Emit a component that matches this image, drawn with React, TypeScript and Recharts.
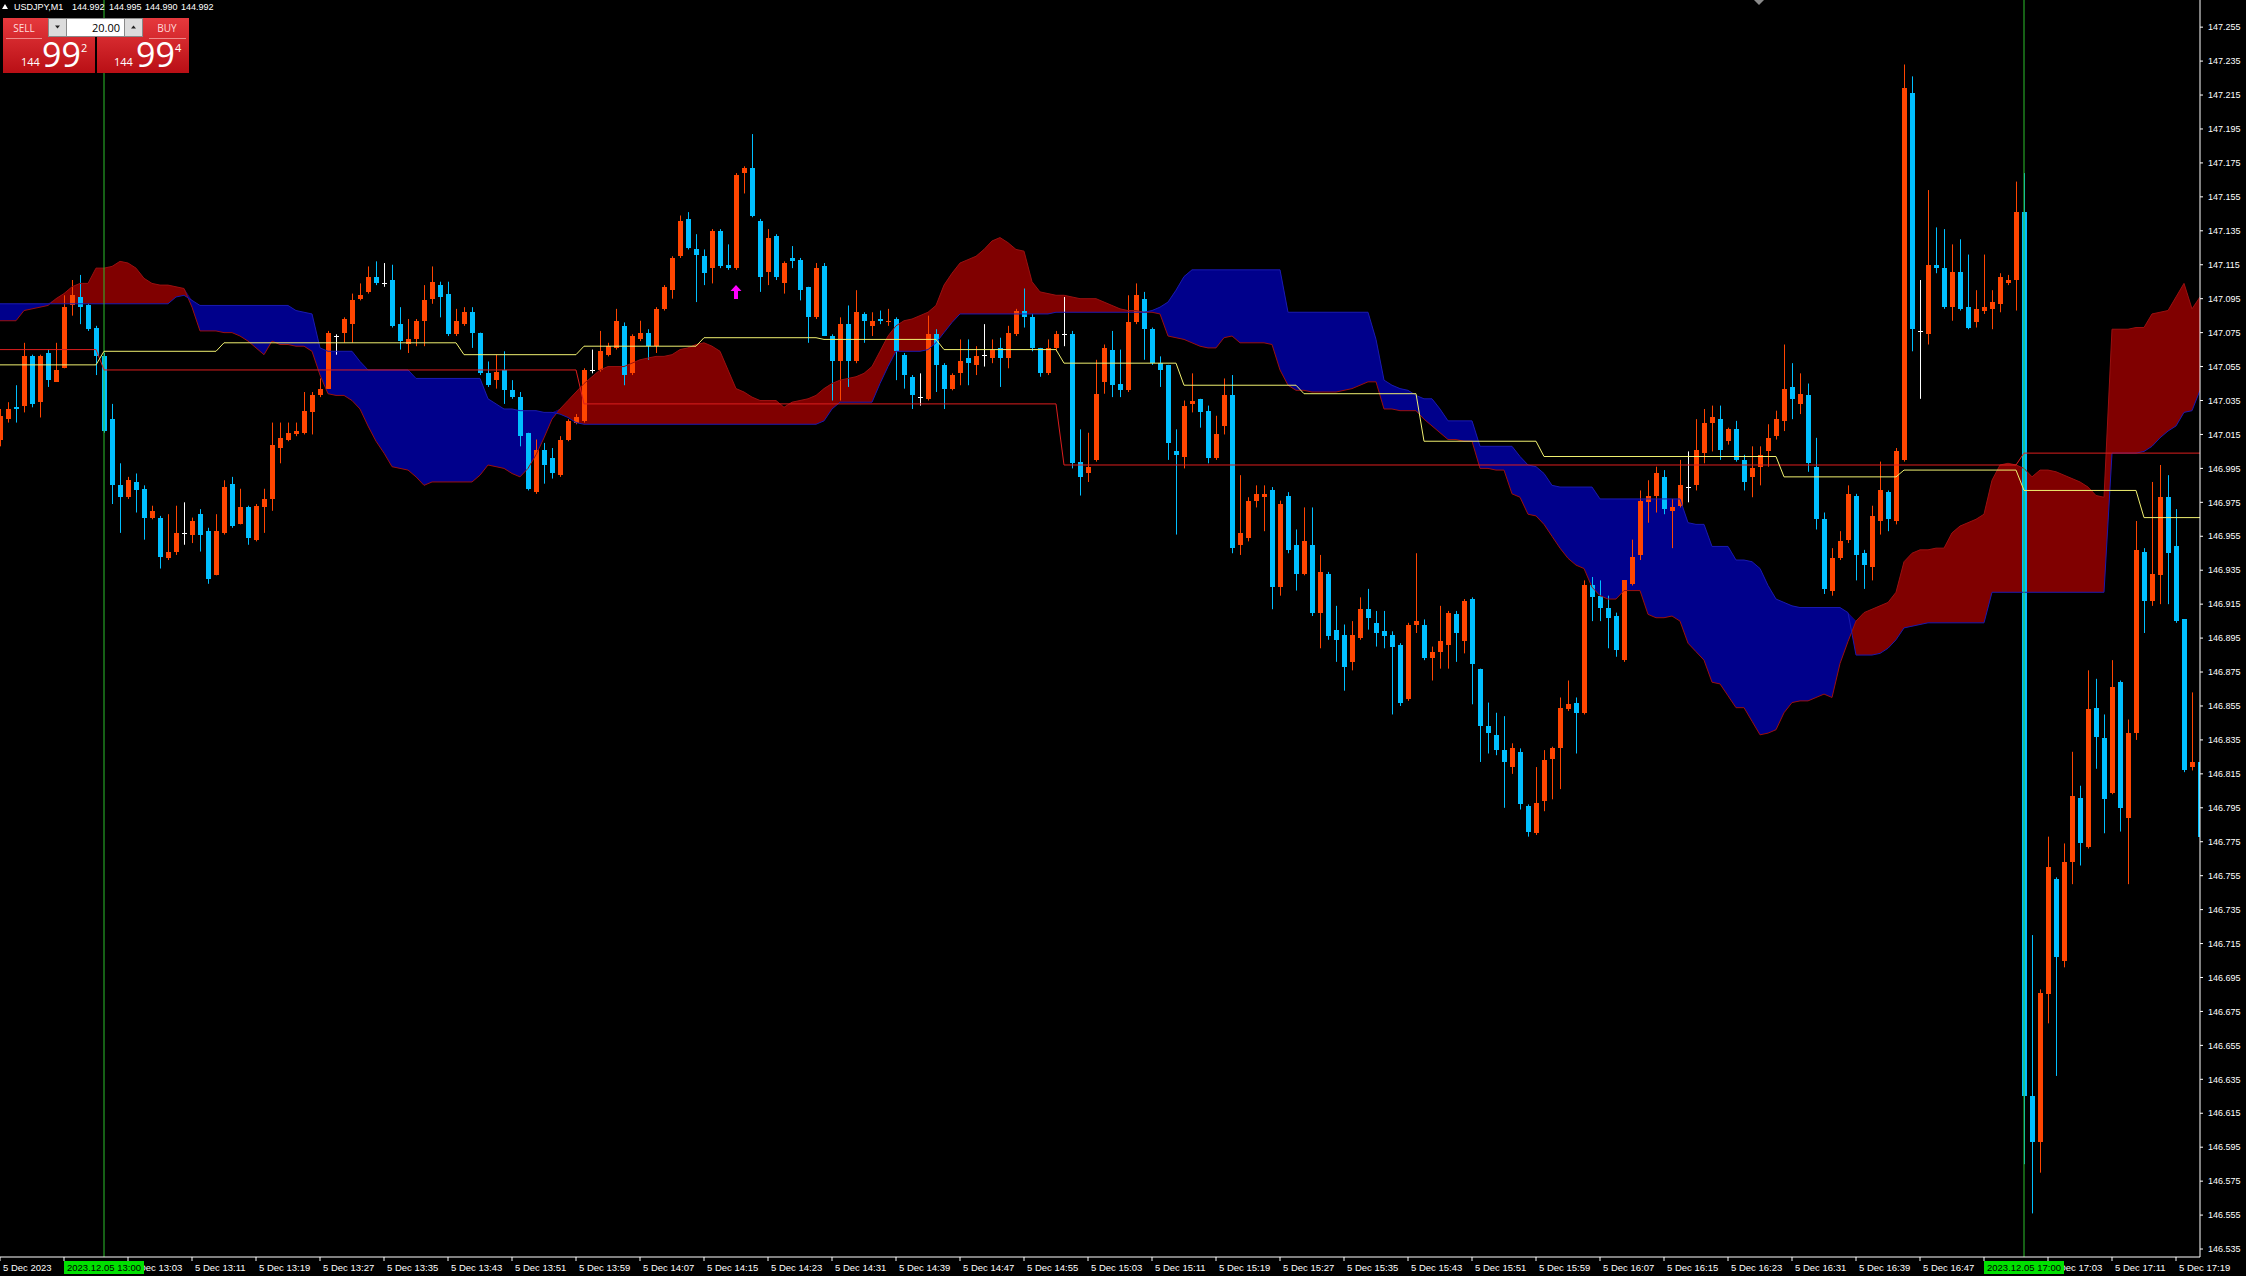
import React from "react";
import { ComposedChart, Bar, Line, Area, Scatter, XAxis, YAxis, ReferenceLine } from "recharts";

const FONT = "'Liberation Sans', Arial, sans-serif";
const UP = "#ff4500";
const DOWN = "#00bfff";
const DOJI = "#ffffff";
const KUMO_UP = "#800000";
const KUMO_DOWN = "#00008b";

// USDJPY M1, 5 Dec 2023, bar 0 = 12:47
const opens = [
  147.012, 147.024, 147.031, 147.032, 147.061, 147.034, 147.063, 147.046, 147.054, 147.091,
  147.096, 147.091, 147.078, 147.061, 147.024, 146.985, 146.978, 146.987, 146.983, 146.966,
  146.966, 146.942, 146.946, 146.957, 146.956, 146.968, 146.958, 146.932, 146.957, 146.986,
  146.962, 146.972, 146.953, 146.972, 146.977, 147.007, 147.012, 147.015, 147.016, 147.028,
  147.038, 147.042, 147.073, 147.075, 147.080, 147.095, 147.099, 147.108, 147.104, 147.106,
  147.080, 147.068, 147.071, 147.082, 147.095, 147.103, 147.098, 147.074, 147.080, 147.087,
  147.075, 147.051, 147.047, 147.053, 147.041, 147.037, 147.016, 146.981, 147.006, 147.001,
  146.991, 147.012, 147.022, 147.023, 147.053, 147.053, 147.062, 147.066, 147.079, 147.051,
  147.071, 147.075, 147.067, 147.089, 147.100, 147.120, 147.142, 147.124, 147.120, 147.113,
  147.135, 147.115, 147.113, 147.169, 147.172, 147.141, 147.111, 147.132, 147.104, 147.119,
  147.118, 147.102, 147.084, 147.114, 147.073, 147.058, 147.080, 147.058, 147.086, 147.079,
  147.083, 147.081, 147.083, 147.062, 147.049, 147.037, 147.036, 147.074, 147.056, 147.042,
  147.051, 147.060, 147.056, 147.062, 147.060, 147.066, 147.060, 147.074, 147.088, 147.084,
  147.066, 147.051, 147.066, 147.074, 147.074, 146.999, 146.992, 147.000, 147.046, 147.065,
  147.045, 147.041, 147.081, 147.095, 147.077, 147.057, 147.056, 147.005, 147.002, 147.033,
  147.036, 147.029, 147.001, 147.020, 147.038, 146.950, 146.954, 146.976, 146.978, 146.982,
  146.925, 146.979, 146.950, 146.933, 146.950, 146.910, 146.933, 146.900, 146.897, 146.881,
  146.895, 146.912, 146.904, 146.899, 146.897, 146.891, 146.859, 146.903, 146.903, 146.883,
  146.887, 146.891, 146.909, 146.893, 146.918, 146.877, 146.843, 146.838, 146.829, 146.819,
  146.828, 146.796, 146.780, 146.799, 146.824, 146.830, 146.853, 146.857, 146.851, 146.926,
  146.920, 146.913, 146.908, 146.882, 146.927, 146.944, 146.975, 146.979, 146.990, 146.970,
  146.973, 146.984, 146.985, 147.004, 147.022, 147.024, 147.011, 147.018, 147.000, 146.990,
  146.996, 147.005, 147.014, 147.023, 147.043, 147.033, 147.038, 146.996, 146.965, 146.923,
  146.942, 146.953, 146.979, 146.945, 146.937, 146.964, 146.981, 146.964, 147.000, 147.216,
  147.076, 147.074, 147.115, 147.113, 147.090, 147.111, 147.090, 147.081, 147.088, 147.089,
  147.092, 147.104, 147.106, 147.146, 146.625, 146.598, 146.685, 146.753, 146.705, 146.763,
  146.801, 146.772, 146.854, 146.836, 146.804, 146.869, 146.789, 146.839, 146.946, 146.917,
  146.932, 146.978, 146.949, 146.906, 146.819, 146.822,
];

const highs = [
  147.030, 147.034, 147.044, 147.069, 147.062, 147.062, 147.065, 147.069, 147.097, 147.106,
  147.109, 147.092, 147.079, 147.063, 147.033, 146.998, 146.990, 146.992, 146.985, 146.973,
  146.967, 146.968, 146.973, 146.975, 146.966, 146.971, 146.960, 146.968, 146.988, 146.990,
  146.983, 146.973, 146.974, 146.983, 147.022, 147.022, 147.022, 147.022, 147.040, 147.040,
  147.048, 147.076, 147.074, 147.084, 147.098, 147.104, 147.114, 147.117, 147.116, 147.115,
  147.090, 147.083, 147.083, 147.103, 147.114, 147.105, 147.105, 147.089, 147.090, 147.090,
  147.075, 147.058, 147.062, 147.064, 147.047, 147.040, 147.016, 147.012, 147.010, 147.007,
  147.014, 147.024, 147.027, 147.054, 147.065, 147.076, 147.069, 147.089, 147.081, 147.074,
  147.082, 147.077, 147.090, 147.103, 147.120, 147.144, 147.146, 147.133, 147.124, 147.136,
  147.136, 147.127, 147.169, 147.173, 147.192, 147.142, 147.136, 147.133, 147.117, 147.126,
  147.119, 147.102, 147.116, 147.116, 147.074, 147.084, 147.091, 147.100, 147.087, 147.087,
  147.088, 147.089, 147.084, 147.063, 147.050, 147.051, 147.085, 147.077, 147.057, 147.051,
  147.071, 147.071, 147.067, 147.080, 147.071, 147.072, 147.079, 147.089, 147.101, 147.086,
  147.066, 147.071, 147.076, 147.096, 147.076, 147.018, 147.016, 147.059, 147.068, 147.076,
  147.065, 147.097, 147.104, 147.099, 147.078, 147.061, 147.056, 147.018, 147.035, 147.051,
  147.036, 147.032, 147.026, 147.048, 147.050, 146.991, 146.978, 146.985, 146.985, 146.984,
  146.976, 146.981, 146.959, 146.972, 146.972, 146.944, 146.934, 146.914, 146.903, 146.905,
  146.919, 146.924, 146.911, 146.911, 146.899, 146.892, 146.904, 146.945, 146.906, 146.890,
  146.914, 146.911, 146.911, 146.918, 146.919, 146.877, 146.857, 146.851, 146.849, 146.833,
  146.830, 146.797, 146.819, 146.829, 146.831, 146.860, 146.870, 146.860, 146.929, 146.931,
  146.929, 146.920, 146.910, 146.929, 146.953, 146.982, 146.988, 146.996, 146.994, 146.977,
  147.000, 147.005, 147.024, 147.030, 147.032, 147.032, 147.019, 147.023, 147.003, 147.008,
  147.008, 147.021, 147.029, 147.068, 147.057, 147.051, 147.045, 147.013, 146.969, 146.948,
  146.958, 146.985, 146.980, 146.947, 146.973, 146.999, 146.982, 147.007, 147.233, 147.226,
  147.106, 147.159, 147.137, 147.136, 147.127, 147.130, 147.121, 147.100, 147.121, 147.100,
  147.110, 147.109, 147.164, 147.169, 146.720, 146.688, 146.778, 146.754, 146.774, 146.828,
  146.808, 146.876, 146.871, 146.850, 146.882, 146.870, 146.847, 146.964, 146.948, 146.987,
  146.997, 146.991, 146.971, 146.906, 146.863, 146.823,
];

const lows = [
  147.008, 147.022, 147.022, 147.028, 147.031, 147.025, 147.043, 147.046, 147.054, 147.085,
  147.080, 147.076, 147.050, 147.016, 146.974, 146.957, 146.977, 146.969, 146.953, 146.965,
  146.936, 146.941, 146.944, 146.950, 146.951, 146.946, 146.927, 146.932, 146.956, 146.960,
  146.962, 146.950, 146.952, 146.957, 146.970, 146.998, 147.011, 147.014, 147.015, 147.015,
  147.037, 147.042, 147.062, 147.069, 147.069, 147.094, 147.098, 147.103, 147.102, 147.078,
  147.065, 147.063, 147.067, 147.067, 147.092, 147.084, 147.073, 147.073, 147.079, 147.066,
  147.050, 147.043, 147.042, 147.033, 147.036, 147.008, 146.982, 146.980, 146.986, 146.989,
  146.990, 147.011, 147.021, 147.022, 147.051, 147.052, 147.061, 147.065, 147.044, 147.050,
  147.070, 147.059, 147.063, 147.088, 147.095, 147.119, 147.124, 147.093, 147.103, 147.104,
  147.113, 147.112, 147.112, 147.157, 147.143, 147.099, 147.103, 147.106, 147.098, 147.113,
  147.094, 147.069, 147.083, 147.073, 147.035, 147.035, 147.043, 147.057, 147.069, 147.073,
  147.080, 147.079, 147.047, 147.042, 147.030, 147.032, 147.035, 147.040, 147.030, 147.041,
  147.044, 147.044, 147.050, 147.055, 147.057, 147.043, 147.054, 147.073, 147.078, 147.064,
  147.049, 147.050, 147.064, 147.067, 146.995, 146.979, 146.987, 146.999, 147.039, 147.037,
  147.037, 147.040, 147.080, 147.059, 147.056, 147.043, 147.000, 146.956, 146.995, 147.028,
  147.019, 146.998, 147.000, 147.015, 146.945, 146.944, 146.952, 146.972, 146.958, 146.912,
  146.920, 146.945, 146.923, 146.932, 146.908, 146.889, 146.894, 146.881, 146.864, 146.876,
  146.894, 146.900, 146.890, 146.889, 146.850, 146.855, 146.858, 146.898, 146.882, 146.870,
  146.877, 146.877, 146.881, 146.886, 146.856, 146.822, 146.827, 146.826, 146.795, 146.815,
  146.794, 146.778, 146.779, 146.793, 146.800, 146.806, 146.852, 146.827, 146.850, 146.905,
  146.905, 146.889, 146.884, 146.881, 146.926, 146.941, 146.963, 146.969, 146.968, 146.948,
  146.972, 146.975, 146.982, 146.998, 147.005, 147.000, 147.009, 146.999, 146.982, 146.978,
  146.985, 146.996, 147.012, 147.017, 147.024, 147.027, 146.993, 146.959, 146.921, 146.920,
  146.941, 146.951, 146.929, 146.924, 146.929, 146.956, 146.958, 146.962, 146.999, 147.064,
  147.036, 147.068, 147.110, 147.089, 147.082, 147.088, 147.077, 147.078, 147.086, 147.077,
  147.087, 147.103, 147.088, 146.585, 146.556, 146.580, 146.668, 146.637, 146.701, 146.750,
  146.761, 146.771, 146.818, 146.780, 146.803, 146.781, 146.750, 146.835, 146.898, 146.914,
  146.915, 146.915, 146.904, 146.816, 146.817, 146.718,
];

const closes = [
  147.026, 147.030, 147.030, 147.061, 147.033, 147.061, 147.047, 147.053, 147.090, 147.097,
  147.090, 147.077, 147.061, 147.017, 146.985, 146.978, 146.988, 146.982, 146.966, 146.970,
  146.943, 146.946, 146.957, 146.957, 146.964, 146.956, 146.930, 146.958, 146.984, 146.961,
  146.972, 146.954, 146.973, 146.977, 147.009, 147.013, 147.016, 147.017, 147.029, 147.038,
  147.042, 147.075, 147.073, 147.083, 147.094, 147.097, 147.108, 147.104, 147.104, 147.079,
  147.070, 147.071, 147.082, 147.094, 147.105, 147.096, 147.074, 147.082, 147.087, 147.075,
  147.051, 147.044, 147.052, 147.041, 147.037, 147.014, 146.983, 147.006, 146.997, 146.992,
  147.012, 147.023, 147.025, 147.053, 147.053, 147.064, 147.067, 147.082, 147.050, 147.073,
  147.075, 147.067, 147.089, 147.102, 147.119, 147.141, 147.125, 147.121, 147.110, 147.135,
  147.114, 147.113, 147.168, 147.172, 147.144, 147.108, 147.131, 147.108, 147.116, 147.117,
  147.100, 147.084, 147.113, 147.073, 147.058, 147.080, 147.058, 147.087, 147.082, 147.082,
  147.082, 147.082, 147.064, 147.050, 147.038, 147.037, 147.074, 147.056, 147.042, 147.050,
  147.058, 147.057, 147.061, 147.062, 147.065, 147.060, 147.075, 147.088, 147.084, 147.066,
  147.051, 147.066, 147.074, 147.074, 146.998, 146.990, 146.996, 147.039, 147.066, 147.044,
  147.041, 147.081, 147.097, 147.077, 147.057, 147.053, 147.010, 147.003, 147.032, 147.035,
  147.028, 147.001, 147.015, 147.038, 146.948, 146.957, 146.976, 146.980, 146.980, 146.925,
  146.974, 146.947, 146.933, 146.952, 146.910, 146.934, 146.896, 146.894, 146.878, 146.897,
  146.912, 146.907, 146.898, 146.896, 146.890, 146.857, 146.903, 146.905, 146.883, 146.887,
  146.893, 146.910, 146.898, 146.917, 146.880, 146.843, 146.839, 146.829, 146.822, 146.830,
  146.797, 146.781, 146.798, 146.823, 146.830, 146.854, 146.856, 146.851, 146.926, 146.919,
  146.913, 146.907, 146.888, 146.929, 146.943, 146.976, 146.979, 146.992, 146.971, 146.972,
  146.985, 146.984, 147.006, 147.022, 147.025, 147.006, 147.018, 147.000, 146.987, 146.995,
  147.003, 147.013, 147.024, 147.042, 147.036, 147.039, 146.998, 146.965, 146.924, 146.942,
  146.952, 146.980, 146.944, 146.938, 146.967, 146.982, 146.965, 147.005, 147.219, 147.077,
  147.076, 147.115, 147.113, 147.090, 147.111, 147.089, 147.078, 147.089, 147.090, 147.093,
  147.108, 147.106, 147.146, 146.625, 146.598, 146.686, 146.760, 146.707, 146.763, 146.802,
  146.774, 146.853, 146.837, 146.800, 146.866, 146.795, 146.839, 146.947, 146.917, 146.933,
  146.978, 146.945, 146.905, 146.817, 146.822, 146.778,
];

// Ichimoku cloud edges, per bar (span A: red edge, span B: blue edge)
const spanA = [
  147.082, 147.082, 147.082, 147.088, 147.089, 147.090, 147.091, 147.095, 147.098, 147.102,
  147.104, 147.104, 147.113, 147.113, 147.114, 147.117, 147.116, 147.113, 147.107, 147.104,
  147.103, 147.103, 147.102, 147.101, 147.090, 147.076, 147.076, 147.076, 147.075, 147.075,
  147.073, 147.070, 147.066, 147.062, 147.070, 147.068, 147.068, 147.067, 147.067, 147.064,
  147.050, 147.039, 147.038, 147.038, 147.035, 147.030, 147.020, 147.011, 147.004, 146.996,
  146.995, 146.994, 146.990, 146.985, 146.987, 146.987, 146.987, 146.987, 146.987, 146.987,
  146.991, 146.997, 146.996, 146.995, 146.992, 146.990, 146.995, 147.003, 147.013, 147.024,
  147.030, 147.035, 147.040, 147.045, 147.049, 147.053, 147.055, 147.055, 147.055, 147.057,
  147.059, 147.060, 147.061, 147.061, 147.062, 147.065, 147.066, 147.068, 147.069, 147.067,
  147.064, 147.053, 147.042, 147.040, 147.037, 147.035, 147.035, 147.035, 147.031, 147.034,
  147.035, 147.036, 147.038, 147.042, 147.045, 147.047, 147.048, 147.049, 147.051, 147.055,
  147.064, 147.073, 147.079, 147.082, 147.083, 147.085, 147.087, 147.091, 147.103, 147.110,
  147.116, 147.118, 147.120, 147.124, 147.129, 147.131, 147.128, 147.124, 147.123, 147.105,
  147.099, 147.098, 147.097, 147.097, 147.096, 147.095, 147.095, 147.095, 147.093, 147.091,
  147.089, 147.088, 147.088, 147.087, 147.087, 147.086, 147.073, 147.072, 147.071, 147.069,
  147.067, 147.066, 147.066, 147.072, 147.073, 147.069, 147.069, 147.069, 147.069, 147.068,
  147.053, 147.044, 147.041, 147.041, 147.040, 147.040, 147.040, 147.040, 147.041, 147.042,
  147.044, 147.046, 147.046, 147.030, 147.030, 147.029, 147.029, 147.029, 147.024, 147.020,
  147.016, 147.012, 147.012, 147.011, 147.011, 146.995, 146.995, 146.994, 146.994, 146.980,
  146.978, 146.968, 146.967, 146.962, 146.955, 146.948, 146.942, 146.938, 146.936, 146.925,
  146.920, 146.918, 146.918, 146.923, 146.923, 146.923, 146.909, 146.907, 146.907, 146.908,
  146.905, 146.892, 146.887, 146.882, 146.869, 146.868, 146.861, 146.854, 146.854, 146.846,
  146.838, 146.839, 146.841, 146.851, 146.857, 146.858, 146.858, 146.860, 146.862, 146.860,
  146.880, 146.893, 146.905, 146.910, 146.912, 146.914, 146.916, 146.922, 146.940, 146.945,
  146.947, 146.947, 146.948, 146.948, 146.957, 146.961, 146.963, 146.965, 146.968, 146.988,
  146.997, 146.998, 146.997, 146.995, 146.990, 146.994, 146.994, 146.993, 146.991, 146.989,
  146.987, 146.984, 146.979, 146.978, 147.077, 147.077, 147.077, 147.078, 147.078, 147.086,
  147.087, 147.088, 147.096, 147.104, 147.089, 147.096,
];

const spanB = [
  147.092, 147.092, 147.092, 147.092, 147.092, 147.092, 147.092, 147.092, 147.092, 147.092,
  147.092, 147.092, 147.092, 147.092, 147.092, 147.092, 147.092, 147.092, 147.092, 147.092,
  147.092, 147.092, 147.096, 147.097, 147.094, 147.091, 147.091, 147.091, 147.091, 147.091,
  147.091, 147.091, 147.091, 147.091, 147.091, 147.091, 147.091, 147.088, 147.087, 147.086,
  147.066, 147.064, 147.064, 147.064, 147.064, 147.058, 147.053, 147.053, 147.053, 147.053,
  147.053, 147.053, 147.048, 147.048, 147.048, 147.048, 147.048, 147.048, 147.048, 147.048,
  147.048, 147.036, 147.033, 147.030, 147.030, 147.029, 147.029, 147.029, 147.028, 147.028,
  147.027, 147.025, 147.022, 147.021, 147.021, 147.021, 147.021, 147.021, 147.021, 147.021,
  147.021, 147.021, 147.021, 147.021, 147.021, 147.021, 147.021, 147.021, 147.021, 147.021,
  147.021, 147.021, 147.021, 147.021, 147.021, 147.021, 147.021, 147.021, 147.021, 147.021,
  147.021, 147.021, 147.021, 147.023, 147.030, 147.034, 147.034, 147.034, 147.034, 147.034,
  147.045, 147.055, 147.064, 147.064, 147.064, 147.064, 147.065, 147.069, 147.075, 147.081,
  147.086, 147.086, 147.086, 147.086, 147.086, 147.086, 147.086, 147.086, 147.086, 147.086,
  147.086, 147.086, 147.087, 147.087, 147.087, 147.087, 147.087, 147.087, 147.087, 147.087,
  147.087, 147.087, 147.087, 147.087, 147.088, 147.090, 147.093, 147.100, 147.108, 147.112,
  147.112, 147.112, 147.112, 147.112, 147.112, 147.112, 147.112, 147.112, 147.112, 147.112,
  147.112, 147.087, 147.087, 147.087, 147.087, 147.087, 147.087, 147.087, 147.087, 147.087,
  147.087, 147.087, 147.071, 147.047, 147.044, 147.042, 147.041, 147.038, 147.036, 147.036,
  147.030, 147.023, 147.023, 147.023, 147.023, 147.008, 147.008, 147.008, 147.008, 147.008,
  147.002, 146.997, 146.996, 146.992, 146.985, 146.984, 146.984, 146.984, 146.984, 146.984,
  146.977, 146.977, 146.977, 146.977, 146.977, 146.977, 146.977, 146.977, 146.977, 146.977,
  146.977, 146.963, 146.962, 146.962, 146.949, 146.949, 146.949, 146.941, 146.941, 146.940,
  146.936, 146.926, 146.918, 146.916, 146.914, 146.913, 146.913, 146.913, 146.913, 146.913,
  146.913, 146.910, 146.885, 146.885, 146.885, 146.886, 146.889, 146.894, 146.901, 146.902,
  146.903, 146.904, 146.904, 146.904, 146.904, 146.904, 146.904, 146.904, 146.904, 146.922,
  146.922, 146.922, 146.922, 146.922, 146.922, 146.922, 146.922, 146.922, 146.922, 146.922,
  146.922, 146.922, 146.922, 146.922, 147.004, 147.004, 147.004, 147.004, 147.005, 147.008,
  147.013, 147.017, 147.020, 147.028, 147.029, 147.041,
];

// flat step lines as [bars, price] runs
const redLineRuns: [number, number][] = [
  [13, 147.065], [60, 147.053], [60, 147.033], [120, 146.997], [23, 147.004],
];
const yellowLineRuns: [number, number][] = [
  [13, 147.056], [15, 147.064], [30, 147.069], [15, 147.062], [15, 147.067], [15, 147.072],
  [15, 147.071], [15, 147.065], [15, 147.057], [15, 147.044], [15, 147.039], [15, 147.011],
  [30, 147.002], [15, 146.990], [15, 146.994], [15, 146.982], [8, 146.966],
];

const timeTickIdx = [
  0, 8, 16, 24, 32, 40, 48, 56, 64, 72, 80, 88, 96, 104, 112, 120, 128, 136,
  144, 152, 160, 168, 176, 184, 192, 200, 208, 216, 224, 232, 240, 248, 256, 264, 272,
];
// 12:55 and 16:55 sit under the hour badges, so they stay blank
const timeTickLabels = [
  "5 Dec 2023", "", "5 Dec 13:03", "5 Dec 13:11", "5 Dec 13:19", "5 Dec 13:27",
  "5 Dec 13:35", "5 Dec 13:43", "5 Dec 13:51", "5 Dec 13:59", "5 Dec 14:07", "5 Dec 14:15",
  "5 Dec 14:23", "5 Dec 14:31", "5 Dec 14:39", "5 Dec 14:47", "5 Dec 14:55", "5 Dec 15:03",
  "5 Dec 15:11", "5 Dec 15:19", "5 Dec 15:27", "5 Dec 15:35", "5 Dec 15:43", "5 Dec 15:51",
  "5 Dec 15:59", "5 Dec 16:07", "5 Dec 16:15", "5 Dec 16:23", "5 Dec 16:31", "5 Dec 16:39",
  "5 Dec 16:47", "", "5 Dec 17:03", "5 Dec 17:11", "5 Dec 17:19",
];
const priceTicks = [
  147.255, 147.235, 147.215, 147.195, 147.175, 147.155, 147.135, 147.115, 147.095, 147.075,
  147.055, 147.035, 147.015, 146.995, 146.975, 146.955, 146.935, 146.915, 146.895, 146.875,
  146.855, 146.835, 146.815, 146.795, 146.775, 146.755, 146.735, 146.715, 146.695, 146.675,
  146.655, 146.635, 146.615, 146.595, 146.575, 146.555, 146.535,
];
const hourMarks = [
  { i: 13, label: "2023.12.05 13:00" },
  { i: 253, label: "2023.12.05 17:00" },
];
const arrowMarks = [{ i: 92, price: 147.099 }];

const X_DOMAIN: [number, number] = [0, 275];
const Y_DOMAIN: [number, number] = [146.5303, 147.271];
const W = 2246;
const H = 1276;
const AXIS_W = 46;
const AXIS_H = 19;

const expand = (runs: [number, number][]) => runs.flatMap(([n, v]) => Array(n).fill(v));
const redLine = expand(redLineRuns);
const yellowLine = expand(yellowLineRuns);

const rows = opens.map((o, i) => ({
  i,
  o,
  h: highs[i],
  l: lows[i],
  c: closes[i],
  range: [lows[i], highs[i]],
  a: spanA[i],
  b: spanB[i],
  k: redLine[i],
  t: yellowLine[i],
}));

const redKumo = (d: any) => [d.b, Math.max(d.a, d.b)];
const blueKumo = (d: any) => [d.a, Math.max(d.a, d.b)];

function Candle(props: any) {
  const { x, y, width, height, payload } = props;
  if (!payload || !isFinite(y) || !isFinite(height)) return null;
  const { o, h, l, c } = payload;
  const cx = Math.round(x + width / 2);
  const span = h - l || 1;
  const yOf = (p: number) => y + ((h - p) / span) * height;
  const top = Math.round(yOf(Math.max(o, c)));
  const bot = Math.round(yOf(Math.min(o, c)));
  const color = c > o ? UP : c < o ? DOWN : DOJI;
  return (
    <g>
      <rect x={cx} y={y} width={1} height={Math.max(1, height)} fill={color} />
      <rect x={cx - 2} y={top} width={5} height={Math.max(1, bot - top)} fill={color} />
    </g>
  );
}

function UpArrow(props: any) {
  const { cx, cy } = props;
  const d = `M${cx} ${cy - 7} L${cx + 5.5} ${cy - 1} L${cx + 2} ${cy - 1} L${cx + 2} ${cy + 7} L${cx - 2} ${cy + 7} L${cx - 2} ${cy - 1} L${cx - 5.5} ${cy - 1} Z`;
  return <path d={d} fill="#ff00ff" />;
}

function TimeTick(props: any) {
  const { x, y, payload } = props;
  const k = timeTickIdx.indexOf(payload.value);
  if (!timeTickLabels[k]) return null;
  return (
    <text x={x + 3} y={y + 10} fill="#fff" fontSize={9.5} fontFamily={FONT}>
      {timeTickLabels[k]}
    </text>
  );
}

// pixel position of a bar on the time axis, only used for the hour badges drawn over the axis
const plotW = W - AXIS_W;
const xOf = (i: number) => ((i - X_DOMAIN[0]) / (X_DOMAIN[1] - X_DOMAIN[0])) * plotW;

function TradePanel() {
  const ui = "'Open Sans', sans-serif";
  return (
    <svg width={260} height={80} style={{ position: "absolute", left: 0, top: 0 }}>
      <defs>
        <linearGradient id="redg" x1="0" y1="0" x2="0" y2="1">
          <stop offset="0%" stopColor="#e6393d" />
          <stop offset="100%" stopColor="#b90f15" />
        </linearGradient>
      </defs>
      <polygon points="2,9 8,9 5,4" fill="#fff" />
      <text x={14} y={10} fill="#fff" fontSize={9} fontFamily={FONT}>USDJPY,M1</text>
      <text x={72} y={10} fill="#fff" fontSize={9} fontFamily={FONT}>144.992</text>
      <text x={109} y={10} fill="#fff" fontSize={9} fontFamily={FONT}>144.995</text>
      <text x={145} y={10} fill="#fff" fontSize={9} fontFamily={FONT}>144.990</text>
      <text x={181} y={10} fill="#fff" fontSize={9} fontFamily={FONT}>144.992</text>

      <rect x={3} y={18} width={92} height={55} fill="url(#redg)" />
      <rect x={97} y={18} width={92} height={55} fill="url(#redg)" />
      <line x1={6} x2={42} y1={38.5} y2={38.5} stroke="#f08a8a" />
      <line x1={149} x2={186} y1={38.5} y2={38.5} stroke="#f08a8a" />
      <text x={24} y={32} textAnchor="middle" fill="#ffdcdc" fontSize={10} fontFamily={ui}>SELL</text>
      <text x={167} y={32} textAnchor="middle" fill="#ffdcdc" fontSize={10} fontFamily={ui}>BUY</text>

      <rect x={48.5} y={18.5} width={94} height={18} fill="#fff" stroke="#8a8a8a" />
      <rect x={48.5} y={18.5} width={18} height={18} fill="#dcdcdc" stroke="#8a8a8a" />
      <rect x={124.5} y={18.5} width={18} height={18} fill="#dcdcdc" stroke="#8a8a8a" />
      <polygon points="55,25.5 60,25.5 57.5,28.5" fill="#222" />
      <polygon points="131,28.5 136,28.5 133.5,25.5" fill="#222" />
      <text x={120} y={32} textAnchor="end" fill="#000" fontSize={11} fontFamily={ui}>20.00</text>

      <text x={21} y={66} fill="#fff" fontSize={11} fontFamily={ui}>144</text>
      <text x={42} y={67} fill="#fff" fontSize={34} fontFamily={ui}>99</text>
      <text x={81} y={52} fill="#fff" fontSize={11} fontFamily={ui}>2</text>
      <text x={114} y={66} fill="#fff" fontSize={11} fontFamily={ui}>144</text>
      <text x={136} y={67} fill="#fff" fontSize={34} fontFamily={ui}>99</text>
      <text x={175} y={52} fill="#fff" fontSize={11} fontFamily={ui}>4</text>
    </svg>
  );
}

export default function App() {
  return (
    <div style={{ position: "absolute", left: 0, top: 0, width: W, height: H, background: "#000", overflow: "hidden" }}>
      <ComposedChart width={W} height={H} data={rows} margin={{ top: 0, right: 0, bottom: 0, left: 0 }}>
        <XAxis
          dataKey="i"
          type="number"
          domain={X_DOMAIN}
          allowDataOverflow
          ticks={timeTickIdx}
          interval={0}
          height={AXIS_H}
          axisLine={{ stroke: "#fff" }}
          tickLine={{ stroke: "#fff" }}
          tickSize={4}
          tickMargin={0}
          tick={<TimeTick />}
        />
        <YAxis
          orientation="right"
          type="number"
          domain={Y_DOMAIN}
          allowDataOverflow
          ticks={priceTicks}
          interval={0}
          width={AXIS_W}
          axisLine={{ stroke: "#fff" }}
          tickLine={{ stroke: "#fff" }}
          tickSize={3}
          tickMargin={5}
          tick={{ fill: "#fff", fontSize: 9, fontFamily: FONT }}
          tickFormatter={(v: number) => v.toFixed(3)}
        />
        <Area type="linear" dataKey={redKumo} stroke="none" fill={KUMO_UP} fillOpacity={1} dot={false} activeDot={false} isAnimationActive={false} />
        <Area type="linear" dataKey={blueKumo} stroke="none" fill={KUMO_DOWN} fillOpacity={1} dot={false} activeDot={false} isAnimationActive={false} />
        <Line type="linear" dataKey="a" stroke="#9a1010" strokeWidth={1} dot={false} activeDot={false} isAnimationActive={false} />
        <Line type="linear" dataKey="b" stroke="#1a1ab0" strokeWidth={1} dot={false} activeDot={false} isAnimationActive={false} />
        {hourMarks.map((m) => (
          <ReferenceLine key={m.i} x={m.i} stroke="#2dbf2d" strokeWidth={1} />
        ))}
        <Line type="linear" dataKey="k" stroke="#dc1e1e" strokeWidth={1} dot={false} activeDot={false} isAnimationActive={false} />
        <Line type="linear" dataKey="t" stroke="#f0f070" strokeWidth={1} dot={false} activeDot={false} isAnimationActive={false} />
        <Bar dataKey="range" barSize={5} shape={(p: any) => <Candle {...p} />} isAnimationActive={false} />
        <Scatter data={arrowMarks} dataKey="price" shape={(p: any) => <UpArrow {...p} />} isAnimationActive={false} />
      </ComposedChart>

      <svg width={W} height={H} style={{ position: "absolute", left: 0, top: 0, pointerEvents: "none" }}>
        {hourMarks.map((m) => (
          <g key={m.i}>
            <rect x={xOf(m.i) - 40} y={1261} width={80} height={13} fill="#00e000" />
            <text x={xOf(m.i)} y={1271} textAnchor="middle" fill="#000" fontSize={9.5} fontFamily={FONT}>
              {m.label}
            </text>
          </g>
        ))}
        <polygon points="1754,0 1764,0 1759,5" fill="#8a8a8a" />
      </svg>

      <TradePanel />
    </div>
  );
}
